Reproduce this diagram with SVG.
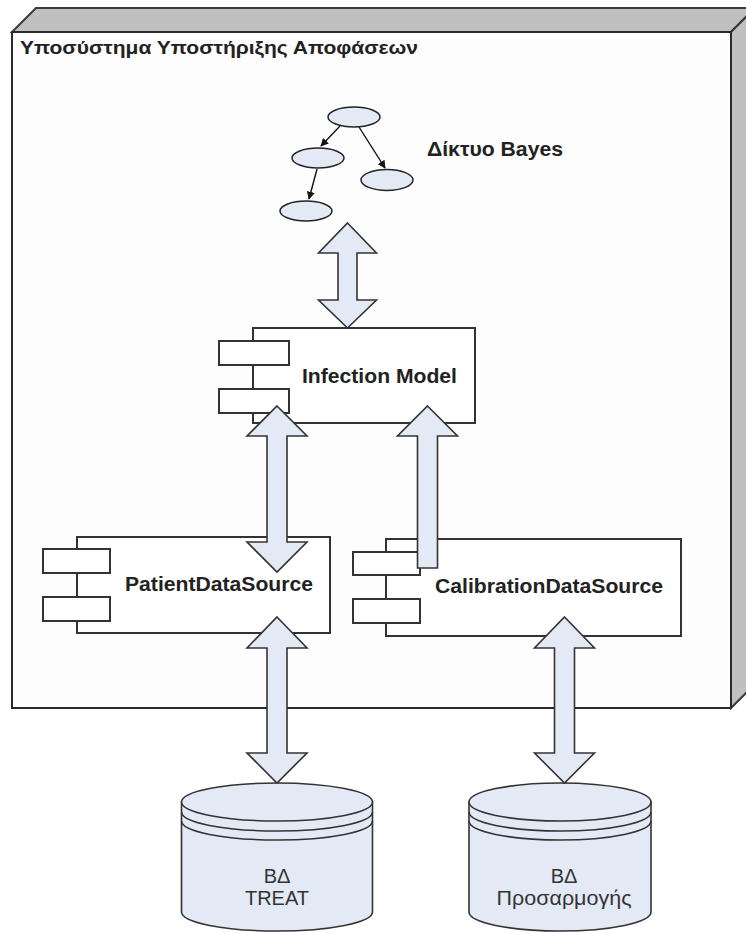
<svg xmlns="http://www.w3.org/2000/svg" width="746" height="933" viewBox="0 0 746 933">
  <defs>
    <style>
      .face { fill: #c0c0c0; stroke: #3a3a3a; stroke-width: 2; stroke-linejoin: miter; }
      .front { fill: #fdfdfd; stroke: #2a2a2a; stroke-width: 2; }
      .comp { fill: #ffffff; stroke: #333333; stroke-width: 2; }
      .big { fill: #e3eaf6; stroke: #333333; stroke-width: 1.6; stroke-linejoin: miter; }
      .node { fill: #e3eaf6; stroke: #222222; stroke-width: 1.5; }
      .edge { fill: none; stroke: #111111; stroke-width: 1.4; marker-end: url(#tip); }
      .db { fill: #e3eaf6; stroke: #333333; stroke-width: 1.6; }
      .dbline { fill: none; stroke: #333333; stroke-width: 1.6; }
      .lbl { font-family: "Liberation Sans", Arial, sans-serif; font-weight: bold; fill: #222222; }
      .dbt { font-family: "Liberation Sans", Arial, sans-serif; font-size: 20px; fill: #333333; text-anchor: middle; }
    </style>
    <marker id="tip" viewBox="0 0 10 10" refX="9" refY="5" markerWidth="8" markerHeight="8" markerUnits="userSpaceOnUse" orient="auto">
      <path d="M0,0 L10,5 L0,10 Z" fill="#111111"/>
    </marker>
  </defs>

  <!-- subsystem container (3D box) -->
  <g id="subsystem">
    <polygon class="face" points="12,32 36,8 755,8 731,32"/>
    <polygon class="face" points="731,32 755,8 755,684 731,708"/>
    <rect class="front" x="12" y="32" width="719" height="676"/>
    <text class="lbl" x="20" y="54" font-size="19" textLength="398" lengthAdjust="spacingAndGlyphs">Υποσύστημα Υποστήριξης Αποφάσεων</text>
  </g>

  <!-- Bayesian network -->
  <g id="bayes">
    <g class="edges">
      <line class="edge" x1="340" y1="126" x2="321" y2="146"/>
      <line class="edge" x1="359" y1="127" x2="385" y2="168"/>
      <line class="edge" x1="317" y1="169" x2="309" y2="199"/>
    </g>
    <ellipse class="node" cx="354" cy="117" rx="26" ry="10"/>
    <ellipse class="node" cx="318" cy="158" rx="26" ry="10"/>
    <ellipse class="node" cx="387" cy="180" rx="26" ry="10.5"/>
    <ellipse class="node" cx="306" cy="211" rx="26" ry="10"/>
    <text class="lbl" x="427" y="156" font-size="20" textLength="136" lengthAdjust="spacingAndGlyphs">Δίκτυο Bayes</text>
  </g>

  <!-- Infection Model component -->
  <g id="infection-model">
    <rect class="comp" x="253" y="328" width="222" height="95"/>
    <rect class="comp" x="219" y="341" width="70" height="24"/>
    <rect class="comp" x="219" y="389" width="70" height="24"/>
    <text class="lbl" x="302" y="383" font-size="20" textLength="155" lengthAdjust="spacingAndGlyphs">Infection Model</text>
  </g>

  <!-- PatientDataSource component -->
  <g id="patient-data-source">
    <rect class="comp" x="77" y="537" width="253" height="96"/>
    <rect class="comp" x="43" y="549" width="67" height="24"/>
    <rect class="comp" x="43" y="597" width="67" height="24"/>
    <text class="lbl" x="125" y="591" font-size="20" textLength="188" lengthAdjust="spacingAndGlyphs">PatientDataSource</text>
  </g>

  <!-- CalibrationDataSource component -->
  <g id="calibration-data-source">
    <rect class="comp" x="386" y="539" width="295" height="97"/>
    <rect class="comp" x="353" y="552" width="67" height="23"/>
    <rect class="comp" x="353" y="599" width="67" height="24"/>
    <text class="lbl" x="435" y="593" font-size="20" textLength="228" lengthAdjust="spacingAndGlyphs">CalibrationDataSource</text>
  </g>

  <!-- databases -->
  <g id="db-treat">
    <path class="db" d="M181.5,802 V912 A95.5,19 0 0 0 372.5,912 V802 Z"/>
    <ellipse class="db" cx="277" cy="802" rx="95.5" ry="19"/>
    <path class="dbline" d="M181.5,812 A95.5,19 0 0 0 372.5,812 M181.5,821 A95.5,19 0 0 0 372.5,821"/>
    <text class="dbt" x="277" y="883">ΒΔ</text>
    <text class="dbt" x="277" y="905">TREAT</text>
  </g>
  <g id="db-calibration">
    <path class="db" d="M469,802 V912 A91,19 0 0 0 651,912 V802 Z"/>
    <ellipse class="db" cx="560" cy="802" rx="91" ry="19"/>
    <path class="dbline" d="M469,812 A91,19 0 0 0 651,812 M469,821 A91,19 0 0 0 651,821"/>
    <text class="dbt" x="564" y="883">ΒΔ</text>
    <text class="dbt" x="564" y="905" textLength="135" lengthAdjust="spacingAndGlyphs">Προσαρμογής</text>
  </g>

  <!-- block arrows between parts -->
  <g id="connectors">
    <path class="big" d="M347.5,223 L376.5,253 L357,253 L357,300 L376.5,300 L347.5,328 L318.5,300 L338,300 L338,253 L318.5,253 Z"/>
    <path class="big" d="M277,406 L307,436 L287,436 L287,542 L307,542 L277,572 L247,542 L267,542 L267,436 L247,436 Z"/>
    <path class="big" d="M277,617 L307,648 L287,648 L287,753 L307,753 L277,783 L247,753 L267,753 L267,648 L247,648 Z"/>
    <path class="big" d="M427.5,406 L457.5,436 L437.5,436 L437.5,568 L417.5,568 L417.5,436 L397.5,436 Z"/>
    <path class="big" d="M564.5,617 L594.5,648 L574.5,648 L574.5,753 L594.5,753 L564.5,783 L534.5,753 L554.5,753 L554.5,648 L534.5,648 Z"/>
  </g>
</svg>
